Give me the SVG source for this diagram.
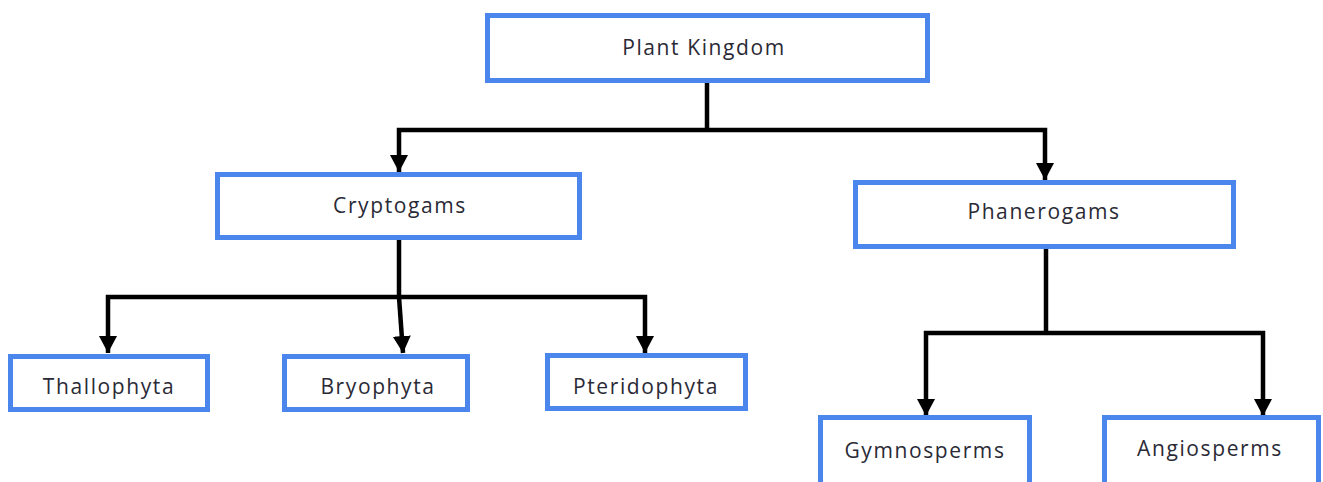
<svg xmlns="http://www.w3.org/2000/svg" width="1323" height="482" viewBox="0 0 1323 482">
  <style>
    .box { fill: #ffffff; stroke: #4a86ec; stroke-width: 5; }
    .lbl { font-family: "Open Sans", "Liberation Sans", sans-serif; font-size: 21px; fill: #2a2a36; text-anchor: middle; dominant-baseline: central; letter-spacing: 1.6px; }
    .conn { fill: none; stroke: #000000; stroke-width: 4.5; stroke-linejoin: miter; }
  </style>
  <defs>
    <marker id="arrow" markerUnits="userSpaceOnUse" markerWidth="20" markerHeight="20" refX="17" refY="9" orient="auto">
      <path d="M0,0 L17,9 L0,18 Z" fill="#000000"/>
    </marker>
  </defs>
  <rect width="1323" height="482" fill="#ffffff"/>
  <g id="connectors">
    <path class="conn" d="M707,83 L707,130"/>
    <path class="conn" d="M707,130 L399,130 L399,172" marker-end="url(#arrow)"/>
    <path class="conn" d="M707,130 L1045,130 L1045,180" marker-end="url(#arrow)"/>
    <path class="conn" d="M399,240 L399,297"/>
    <path class="conn" d="M399,297 L108,297 L108,353" marker-end="url(#arrow)"/>
    <path class="conn" d="M399,297 L403,353" marker-end="url(#arrow)"/>
    <path class="conn" d="M399,297 L645,297 L645,353" marker-end="url(#arrow)"/>
    <path class="conn" d="M1046,249 L1046,333"/>
    <path class="conn" d="M1046,333 L926,333 L926,416" marker-end="url(#arrow)"/>
    <path class="conn" d="M1046,333 L1263,333 L1263,416" marker-end="url(#arrow)"/>
  </g>
  <g id="plant-kingdom">
    <rect class="box" x="487.5" y="15.5" width="440" height="65"/>
    <text class="lbl" x="704" y="47">Plant Kingdom</text>
  </g>
  <g id="cryptogams">
    <rect class="box" x="217.5" y="174.5" width="362" height="63"/>
    <text class="lbl" x="400" y="205">Cryptogams</text>
  </g>
  <g id="phanerogams">
    <rect class="box" x="855.5" y="182.5" width="378" height="64"/>
    <text class="lbl" x="1044" y="211">Phanerogams</text>
  </g>
  <g id="thallophyta">
    <rect class="box" x="10.5" y="356.5" width="197" height="53"/>
    <text class="lbl" x="109" y="386">Thallophyta</text>
  </g>
  <g id="bryophyta">
    <rect class="box" x="284.5" y="356.5" width="183" height="53"/>
    <text class="lbl" x="378" y="386">Bryophyta</text>
  </g>
  <g id="pteridophyta">
    <rect class="box" x="547.5" y="355.5" width="198" height="53"/>
    <text class="lbl" x="646" y="386">Pteridophyta</text>
  </g>
  <g id="gymnosperms">
    <rect class="box" x="820.5" y="417.5" width="209" height="80"/>
    <text class="lbl" x="925" y="450">Gymnosperms</text>
  </g>
  <g id="angiosperms">
    <rect class="box" x="1104.5" y="417.5" width="214" height="80"/>
    <text class="lbl" x="1210" y="448">Angiosperms</text>
  </g>
</svg>
